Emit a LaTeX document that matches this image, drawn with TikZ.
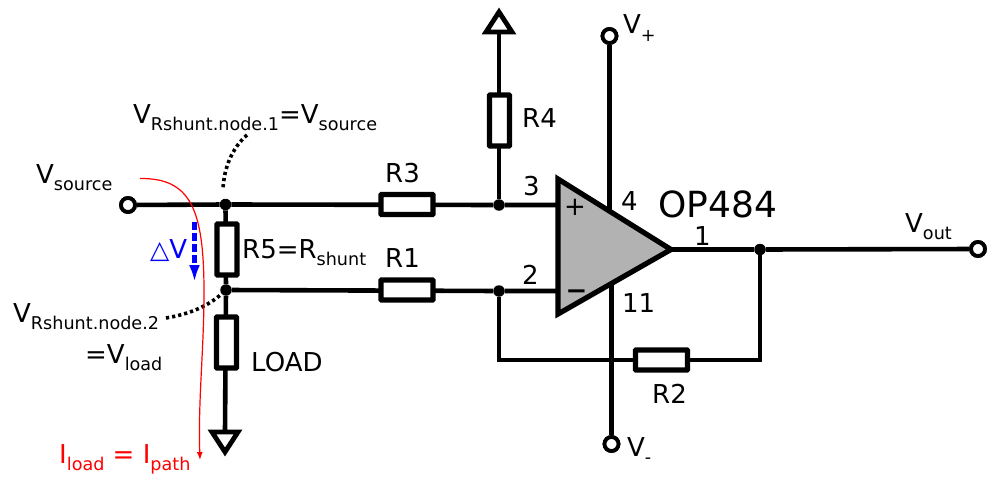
\documentclass[tikz,border=0pt]{standalone}
\usepackage{fontspec}
\setmainfont{DejaVu Sans}
\usetikzlibrary{arrows.meta}
\newcommand{\low}[1]{\raisebox{-.28em}{\fontsize{17.6}{17.6}\selectfont #1}}
\begin{document}
\begin{tikzpicture}[x=1pt, y=-1pt, line join=miter,
	wire/.style={line width=4.6pt},
	res/.style={draw, line width=5.2pt, fill=white, inner sep=0pt, outer sep=0pt, rounded corners=.5pt},
	hres/.style={res, minimum width=52pt, minimum height=20pt},
	vres/.style={res, minimum width=20pt, minimum height=51pt},
	dot/.style={circle, fill=black, inner sep=0pt, minimum size=11.5pt},
	term/.style={circle, draw, line width=3.8pt, fill=white, inner sep=0pt, minimum size=14pt},
	supply/.style={draw, line width=4.8pt, fill=white, line join=miter},
	lab/.style={inner sep=0pt, anchor=base west, font=\fontsize{26}{26}\selectfont},
	hint/.style={line width=3.6pt, dash pattern=on 3.2pt off 3pt}]
	\useasboundingbox (0,0) rectangle (1004,487);
	\fill[white] (0,0) rectangle (1004,487);
	% nodes
	\node[term] (vsrc)  at (128,205)   {};
	\node[term] (vplus) at (609.5,36)  {};
	\node[term] (vminus) at (611.5,444) {};
	\node[term] (vout)  at (978,249)   {};
	\node[dot]  (j1)    at (225.5,204.5) {};
	\node[dot]  (j2)    at (226,290)   {};
	\node[dot]  (j3)    at (499,205)   {};
	\node[dot]  (j4)    at (499,291)   {};
	\node[dot]  (j5)    at (760,249.5) {};
	\coordinate (gnd)   at (225,432);
	\coordinate (ref)   at (499,32);
	\coordinate (oppos) at (558,205);
	\coordinate (opneg) at (558,291);
	\coordinate (opout) at (671,249.5);
	\coordinate (optop) at (609.5,210);
	\coordinate (opbot) at (611.5,285);
	\coordinate (fbl)   at (499,360);
	\coordinate (fbr)   at (760,360);
	% wires
	\draw[wire] (vsrc) -- (j1) -- (j3) -- (oppos);
	\draw[wire] (j1) -- (j2) -- (gnd);
	\draw[wire] (j2) -- (j4) -- (opneg);
	\draw[wire] (j3) -- (ref);
	\draw[wire] (vplus) -- (optop);
	\draw[wire] (opbot) -- (vminus);
	\draw[wire] (opout) -- (j5) -- (vout);
	\draw[wire] (j4) -- (fbl) -- (fbr) -- (j5);
	% resistors
	\node[hres] (r3)   at (407,204.5) {};
	\node[hres] (r1)   at (407,290)   {};
	\node[hres] (r2)   at (661.5,360) {};
	\node[vres] (r4)   at (499.5,120.5) {};
	\node[vres] (r5)   at (227,249.5) {};
	\node[vres] (load) at (226.5,342.5) {};
	% redraw terminals and dots on top of the wires
	\node[term] at (vsrc) {};
	\node[term] at (vplus) {};
	\node[term] at (vminus) {};
	\node[term] at (vout) {};
	% supply symbols
	\draw[supply] (gnd) ++(-13,0) -- ++(26,0) -- ++(-13,20) -- cycle;
	\draw[supply] (ref) ++(-13,0) -- ++(26,0) -- ++(-13,-20) -- cycle;
	% op amp
	\draw[line width=5.2pt, fill=black!30] (558,179) -- (opout) -- (558,314) -- cycle;
	\node[lab] (plus)  at (564,215) {+};
	\node[lab, font=\fontsize{26}{26}\selectfont\bfseries] (minus) at (565.5,299) {−};
	% labels
	\node[lab] (nsrc)  at (36,183)   {V\low{source}};
	\node[lab] (n1)    at (133,123)  {V\low{Rshunt.node.1}=V\low{source}};
	\node[lab] (n2)    at (13,322)   {V\low{Rshunt.node.2}};
	\node[lab] (nload) at (85,363)   {=V\low{load}};
	\node[lab] (nr5)   at (242,258)  {R5=R\low{shunt}};
	\node[lab] at (251,371) {LOAD};
	\node[lab] at (385,182) {R3};
	\node[lab] at (385,267) {R1};
	\node[lab] at (522,127) {R4};
	\node[lab] at (652,403) {R2};
	\node[lab] at (523,195) {3};
	\node[lab] at (522,284) {2};
	\node[lab] at (621,210) {4};
	\node[lab] at (622,312) {11};
	\node[lab] at (694,245) {1};
	\node[lab, font=\fontsize{36}{36}\selectfont] at (658,217) {OP484};
	\node[lab] at (623,34)  {V\low{+}};
	\node[lab] at (627,456) {V\low{-}};
	\node[lab] at (905,232) {V\low{out}};
	% hints
	\coordinate (h1) at (247,135);
	\coordinate (h2) at (223,189);
	\coordinate (h3) at (166,318);
	\draw[hint] (h1) .. controls (232,148) and (224,168) .. (h2);
	\draw[hint] (h3) .. controls (190,314) and (208,306) .. (j2);
	% voltage drop
	\coordinate (dva) at (194.5,222);
	\coordinate (dvb) at (194.5,282);
	\draw[blue, line width=4.6pt, dash pattern=on 8pt off 3pt, -{Latex[length=17pt,width=11pt]}] (dva) -- (dvb);
	\node[lab, blue] (dv) at (150,258) {{\fontsize{25}{25}\selectfont △}V};
	% current path
	\coordinate (ia) at (140,178.5);
	\coordinate (ib) at (200,460);
	\draw[red, line width=1.2pt, -{Latex[length=8pt,width=6pt]}] (ia) .. controls (190,178) and (204,208) .. (204,292) .. controls (204,350) and (198,400) .. (ib);
	\node[lab, red] (ipath) at (59,463) {I\low{load} = I\low{path}};
\end{tikzpicture}
\end{document}
